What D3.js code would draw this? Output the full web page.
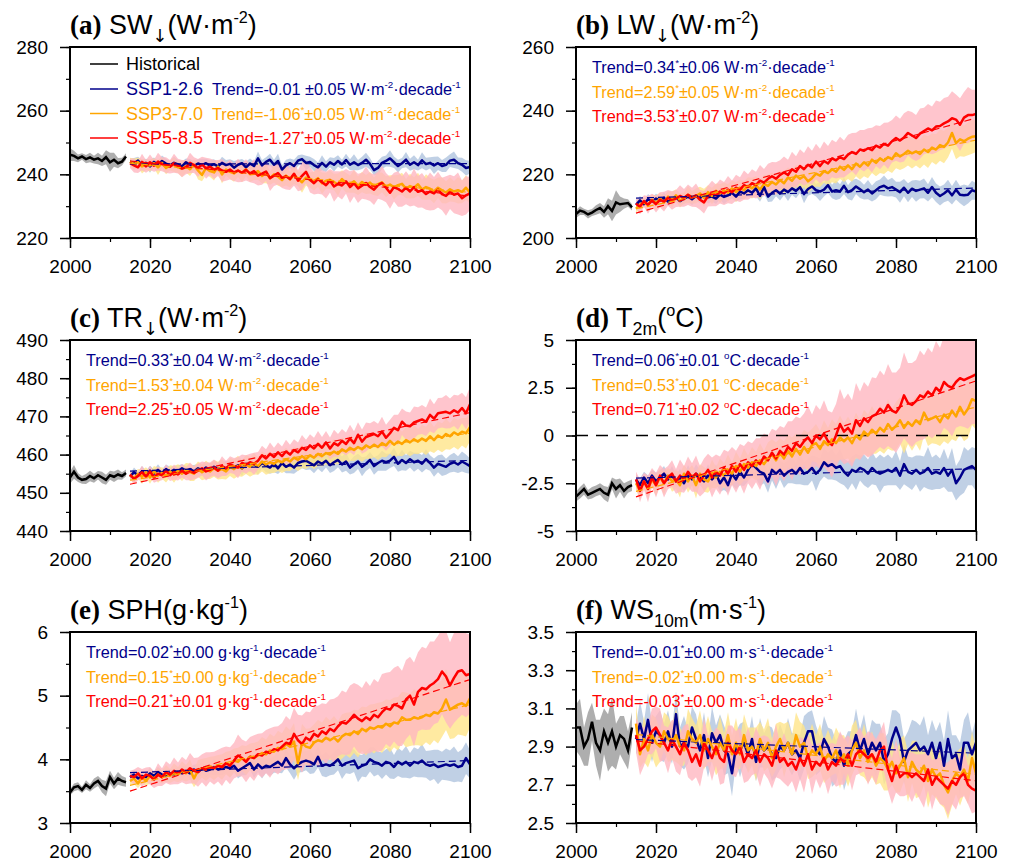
<!DOCTYPE html>
<html>
<head>
<meta charset="utf-8">
<script src="https://d3js.org/d3.v7.min.js"></script>
<style>
body { margin: 0; background: #fff; }
text { font-family: "Liberation Sans", Arial, Helvetica, sans-serif; }
</style>
</head>
<body>
<div id="chart"></div>
<script>

// years
var yearsHist = d3.range(2000, 2015);
var yearsSsp = d3.range(2015, 2101);
var yearTicks = [2000, 2020, 2040, 2060, 2080, 2100];

// ---- (a) SW down ----
var swTicks = [220, 240, 260, 280];
var swHist = [246.2,245.8,245.0,245.6,244.8,245.3,244.6,245.0,244.2,245.4,243.8,244.6,243.5,244.0,245.6];
var swHistSd = [2.0,1.6,1.2,1.0,1.3,1.5,1.2,1.8,1.6,2.2,3.0,2.2,1.6,1.2,1.0];
var swSsp126 = [244.0,243.5,244.3,242.8,243.6,242.5,243.9,243.0,244.2,243.4,
  242.8,243.6,243.1,242.5,243.8,243.0,242.6,243.4,242.9,243.5,
  242.7,243.2,242.5,243.6,242.9,243.3,242.1,243.0,243.5,242.2,
  243.4,242.6,245.0,242.8,243.9,244.6,243.0,244.2,241.5,242.8,
  243.5,242.6,244.3,244.8,243.6,243.9,242.9,242.2,243.6,242.4,
  243.8,243.0,244.2,243.1,244.5,243.0,243.8,242.9,243.6,244.6,
  243.3,241.3,242.0,243.6,244.2,245.0,243.8,242.6,243.5,244.6,
  243.0,243.8,242.9,244.4,243.2,243.6,242.8,243.5,242.6,243.0,
  244.3,244.6,243.5,243.0,242.0,242.3];
var swSsp126Sd = [1.0,1.6,1.2,1.8,1.3,2.0,1.4,1.2,1.7,1.5,
  1.3,1.9,1.4,1.6,1.2,1.8,1.5,1.3,2.0,1.4,
  1.7,1.5,1.2,1.9,1.6,1.4,2.1,1.5,1.3,1.8,
  1.6,1.4,2.2,1.7,1.5,1.9,1.6,2.3,1.4,1.8,
  1.5,2.0,1.7,1.4,2.2,1.6,1.9,1.5,2.4,1.7,
  1.6,2.1,1.8,1.5,2.0,1.7,2.5,1.6,1.9,2.2,
  1.8,1.6,2.3,1.9,1.7,2.6,1.8,2.0,1.6,2.4,
  1.9,2.2,1.7,2.5,2.0,1.8,2.7,2.1,1.9,2.3,
  2.0,2.6,1.8,2.2,2.4,2.0];
var swSsp370 = [244.0,243.2,243.8,242.5,243.0,242.8,243.5,242.2,243.6,242.0,
  242.8,243.0,242.2,241.8,242.5,241.6,243.0,241.2,239.8,242.0,
  241.0,240.6,242.4,240.0,241.5,240.8,240.3,241.2,240.5,241.6,
  240.0,240.2,241.0,239.5,240.4,238.8,240.0,239.3,238.2,239.6,
  238.4,239.8,238.6,237.5,239.0,238.2,237.9,238.8,237.2,238.0,
  238.3,237.6,236.8,238.5,237.4,236.9,237.8,236.4,237.6,236.8,
  237.4,236.2,236.9,237.5,236.1,236.8,235.9,236.6,237.0,235.5,
  236.3,235.8,236.9,235.2,236.0,235.5,234.6,235.8,235.0,234.3,
  235.3,234.6,235.0,234.5,235.8,234.2];
var swSsp370Sd = [1.2,1.8,1.4,2.2,1.6,1.9,1.5,2.4,1.7,2.0,
  1.6,2.3,1.8,2.6,1.9,2.1,1.7,2.8,2.0,2.2,
  1.8,2.5,2.1,2.9,1.9,2.3,2.6,2.0,3.0,2.2,
  2.4,2.0,2.8,2.3,3.2,2.1,2.6,2.9,2.2,3.1,
  2.5,2.8,2.3,3.3,2.6,2.4,3.0,2.7,3.4,2.5,
  2.9,2.6,3.5,2.8,3.1,2.7,3.6,2.9,3.2,3.0,
  3.4,2.8,3.7,3.1,3.3,2.9,3.8,3.2,3.5,3.0,
  3.9,3.3,3.6,3.1,4.0,3.4,3.7,3.2,4.1,3.5,
  3.8,3.3,4.2,3.6,3.9,3.4];
var swSsp585 = [243.5,242.8,242.2,243.9,242.5,243.8,242.7,244.0,243.2,242.9,
  242.4,243.5,242.6,241.8,242.2,243.6,242.9,242.0,243.1,241.9,
  242.4,241.5,242.0,241.2,240.8,241.5,240.6,241.2,240.5,241.4,
  240.3,241.0,239.6,240.2,240.9,238.8,239.6,240.4,238.9,239.4,
  238.5,240.2,238.0,239.5,240.8,238.3,237.2,238.5,237.5,236.6,
  238.0,236.2,237.0,236.5,237.8,236.0,237.2,235.6,236.4,237.3,
  236.0,235.2,236.6,237.3,235.8,234.2,236.0,235.4,234.6,235.8,
  234.6,236.0,234.5,235.0,233.8,234.6,234.0,235.2,233.8,233.2,
  234.5,233.6,234.0,232.5,233.4,234.0];
var swSsp585Sd = [1.5,2.2,1.8,2.6,2.0,2.4,1.9,2.8,2.2,2.5,
  2.1,3.0,2.3,2.7,2.2,3.2,2.5,2.8,2.4,3.3,
  2.6,3.0,2.5,3.5,2.8,3.1,2.7,3.7,2.9,3.3,
  2.8,3.8,3.1,3.5,3.0,4.0,3.3,3.6,3.2,4.2,
  3.4,3.8,3.3,4.4,3.6,4.0,3.5,4.6,3.8,4.2,
  3.7,4.8,4.0,4.4,3.9,5.0,4.2,4.6,4.1,5.2,
  4.4,4.8,4.3,5.4,4.6,5.0,4.5,5.6,4.8,5.2,
  4.7,5.8,5.0,5.4,4.9,6.0,5.2,5.6,5.1,6.2,
  5.4,5.8,6.6,5.6,6.0,5.2];
var swTrendVal = ["-0.01", "-1.06", "-1.27"];
var swTrendSig = [false, true, true];
var swTrendErr = ["0.05", "0.05", "0.05"];

// ---- (b) LW down ----
var lwTicks = [200, 220, 240, 260];
var lwHist = [207.5,208.6,208.2,207.4,208.0,208.8,209.4,208.2,210.0,208.5,211.2,210.6,210.8,211.0,209.6];
var lwHistSd = [1.2,1.4,1.0,1.3,1.1,1.5,1.6,1.8,2.5,3.2,3.8,2.4,1.6,1.2,1.0];
var lwSsp126 = [210.4,211.8,210.6,212.2,211.5,212.4,211.8,212.6,211.4,212.0,
  212.8,211.6,212.4,213.0,212.2,213.2,212.6,213.4,212.8,213.0,
  212.4,213.6,212.9,213.4,214.2,213.0,214.6,214.0,215.0,214.2,
  215.6,213.2,216.0,213.0,214.2,215.0,214.0,215.2,214.4,215.6,
  214.8,216.0,213.8,215.4,216.2,215.0,214.6,215.2,216.6,214.6,
  215.0,214.6,216.4,214.4,215.0,216.2,215.3,214.4,215.2,214.0,
  215.0,216.0,216.4,215.6,216.0,215.2,214.4,215.8,214.2,215.5,
  214.8,215.2,215.6,214.2,216.0,214.2,213.2,214.0,215.0,213.4,
  215.2,213.6,213.4,213.6,215.0,214.6];
var lwSsp126Sd = [1.0,1.4,1.1,1.6,1.2,1.5,1.3,1.8,1.2,1.6,
  1.4,1.2,1.7,1.3,1.9,1.4,1.6,1.2,2.0,1.5,
  1.7,1.4,2.2,1.6,1.8,1.5,2.4,1.7,2.0,1.6,
  2.5,1.8,2.1,1.7,2.7,1.9,2.2,1.8,2.8,2.0,
  2.3,1.9,2.9,2.1,2.4,2.0,3.0,2.2,2.5,2.1,
  3.1,2.3,2.6,2.2,3.2,2.4,2.7,2.3,3.0,2.5,
  2.8,2.4,3.2,2.6,2.9,2.5,3.3,2.7,3.0,2.6,
  3.4,2.8,3.1,2.7,3.2,2.9,3.0,2.8,3.3,2.9,
  3.1,2.7,3.4,2.8,3.0,2.6];
var lwSsp370 = [209.2,210.6,211.2,210.4,212.0,211.0,212.4,211.2,213.0,212.0,
  213.4,211.8,212.6,213.6,212.8,213.2,214.0,212.6,214.4,213.2,
  214.8,214.0,215.0,214.2,215.6,214.4,215.8,215.0,216.4,215.6,
  216.6,215.2,217.0,216.4,217.6,216.8,218.2,217.2,219.0,218.0,
  219.6,218.6,219.4,217.8,218.8,220.2,219.6,221.0,220.4,221.6,
  220.8,222.4,221.4,222.8,221.6,223.4,222.4,223.8,222.8,224.6,
  223.6,225.0,224.2,225.4,224.8,226.6,225.6,226.4,227.4,226.6,
  227.2,226.4,227.8,227.0,228.4,227.8,229.2,228.6,230.0,233.0,
  229.8,231.0,230.4,231.2,231.8,232.0];
var lwSsp370Sd = [1.2,1.7,1.4,2.0,1.6,2.3,1.8,2.1,1.7,2.5,
  1.9,2.2,1.8,2.7,2.0,2.4,2.1,2.9,2.2,2.6,
  2.3,3.0,2.4,2.8,2.5,3.2,2.6,2.9,2.7,3.3,
  2.8,3.1,2.9,3.5,3.0,3.2,3.1,3.7,3.2,3.4,
  3.3,3.8,3.4,3.6,3.5,4.0,3.6,3.7,3.8,4.1,
  3.7,3.9,3.8,4.3,3.9,4.0,4.1,4.4,4.0,4.2,
  4.2,4.6,4.1,4.3,4.4,4.7,4.2,4.5,4.6,4.8,
  4.4,4.6,4.7,5.0,4.5,4.8,4.9,5.1,4.7,5.0,
  5.1,5.3,4.9,5.2,5.3,5.0];
var lwSsp585 = [210.8,209.8,211.6,210.4,211.8,210.6,212.0,211.4,212.6,211.8,
  212.4,213.2,212.6,213.6,212.8,213.4,212.0,211.2,213.2,214.0,
  213.4,214.6,214.0,215.2,214.4,215.8,215.2,216.6,216.0,217.2,
  216.6,218.0,217.4,218.6,219.4,218.6,219.8,220.6,219.8,221.6,
  220.8,222.6,221.6,223.0,222.2,224.0,222.6,224.2,223.4,225.0,
  224.4,225.4,224.8,226.2,227.0,226.4,227.8,227.4,228.2,227.6,
  229.0,228.4,229.6,229.0,230.4,231.4,230.6,231.6,233.0,232.2,
  231.4,232.8,233.6,234.4,233.8,235.0,235.2,236.0,236.6,237.6,
  237.2,235.6,237.8,238.6,238.6,239.0];
var lwSsp585Sd = [1.5,2.3,1.8,2.8,2.1,2.6,2.4,3.1,2.5,2.9,
  2.7,3.4,2.8,3.2,3.0,3.7,3.1,3.5,3.3,4.0,
  3.4,3.8,3.6,4.3,3.7,4.1,3.9,4.6,4.0,4.4,
  4.2,4.9,4.3,4.7,4.5,5.2,4.6,5.0,4.8,5.5,
  4.9,5.3,5.1,5.8,5.2,5.6,5.4,6.1,5.5,5.9,
  5.7,6.4,5.8,6.2,6.0,6.7,6.1,6.5,6.3,7.0,
  6.4,6.8,6.6,7.3,6.7,7.1,6.9,7.6,7.0,7.4,
  7.2,7.9,7.3,7.7,7.5,8.2,7.6,8.0,7.8,8.5,
  7.9,8.3,8.1,8.8,8.0,7.6];
var lwTrendVal = ["0.34", "2.59", "3.53"];
var lwTrendSig = [true, true, true];
var lwTrendErr = ["0.06", "0.05", "0.07"];

// ---- (c) TR down ----
var trTicks = [440, 450, 460, 470, 480, 490];
var trHist = [454.0,455.5,454.0,453.4,453.6,454.4,453.8,454.6,454.0,453.4,454.6,454.2,454.8,454.4,455.2];
var trHistSd = [1.6,1.8,1.2,1.0,1.3,1.4,1.2,1.1,1.5,1.3,1.2,1.4,1.3,1.0,0.9];
var trSsp126 = [454.2,455.4,454.6,455.6,454.8,455.8,455.0,456.0,455.2,456.2,
  455.4,456.0,455.6,456.4,455.8,456.2,455.6,456.4,455.8,456.6,
  456.0,456.8,456.2,456.6,456.4,457.0,456.6,457.2,456.4,457.6,
  457.0,457.4,456.8,457.8,457.2,456.6,457.6,456.4,457.8,456.8,
  457.4,456.6,457.8,458.2,458.4,457.8,457.2,458.2,457.6,458.4,
  457.2,458.0,458.6,457.4,458.2,456.6,457.4,458.2,456.8,457.6,
  458.6,457.0,457.8,458.4,458.0,458.4,459.4,457.6,458.6,457.8,
  458.8,458.0,458.4,457.6,458.8,457.8,456.6,457.6,457.2,456.8,
  457.6,458.0,457.4,458.2,457.6,457.0];
var trSsp126Sd = [0.8,1.2,0.9,1.4,1.0,1.3,1.1,1.5,0.9,1.2,
  1.4,1.0,1.6,1.1,1.3,1.0,1.7,1.2,1.4,1.1,
  1.8,1.2,1.5,1.3,1.9,1.2,1.6,1.4,2.0,1.3,
  1.7,1.5,2.1,1.4,1.8,1.6,2.2,1.5,1.9,1.7,
  2.3,1.6,2.0,1.8,2.4,1.7,2.1,1.9,2.2,1.8,
  2.0,2.3,1.9,2.1,2.4,1.8,2.2,2.0,2.5,1.9,
  2.1,2.3,2.0,2.6,2.2,1.9,2.4,2.1,2.7,2.0,
  2.2,2.5,2.1,2.3,2.6,2.0,2.4,2.2,2.8,2.1,
  2.3,2.5,2.2,2.6,2.4,2.0];
var trSsp370 = [454.6,453.8,455.0,454.2,455.4,454.0,455.6,454.6,455.2,454.4,
  455.6,454.8,455.8,455.0,456.0,455.4,455.0,456.2,455.4,456.0,
  455.6,456.4,455.8,456.2,455.6,456.8,456.2,457.0,456.4,457.4,
  456.8,457.6,457.0,458.2,457.4,458.0,457.6,458.4,458.0,458.8,
  458.2,459.2,458.6,459.6,458.8,459.8,459.2,460.2,459.6,460.4,
  460.0,460.8,460.2,461.4,460.8,461.8,461.2,462.0,461.4,462.4,
  461.8,462.6,462.0,463.0,462.4,463.6,462.6,463.4,462.8,463.8,
  463.2,464.0,463.4,464.2,463.6,464.8,463.8,465.0,464.4,465.4,
  464.8,465.8,465.2,466.0,465.6,467.2];
var trSsp370Sd = [1.0,1.5,1.2,1.8,1.3,1.6,1.4,2.0,1.5,1.7,
  1.6,2.2,1.7,1.9,1.8,2.3,1.9,2.0,2.1,2.4,
  2.0,2.2,2.3,2.6,2.1,2.4,2.5,2.7,2.2,2.5,
  2.6,2.8,2.3,2.6,2.7,2.9,2.4,2.7,2.8,3.0,
  2.5,2.8,2.9,3.1,2.6,2.9,3.0,3.2,2.7,3.0,
  3.1,3.3,2.8,3.1,3.2,3.4,2.9,3.2,3.3,3.5,
  3.0,3.3,3.4,3.6,3.1,3.4,3.5,3.7,3.2,3.5,
  3.6,3.8,3.3,3.6,3.7,3.9,3.4,3.7,3.8,4.0,
  3.5,3.8,3.9,3.6,4.0,3.7];
var trSsp585 = [454.8,453.6,454.4,455.4,454.2,455.6,454.0,455.0,454.6,455.8,
  454.6,455.4,454.8,455.8,455.0,455.6,455.2,455.8,456.4,455.6,
  456.0,456.6,455.8,457.0,456.4,457.4,457.0,456.6,457.8,457.4,
  458.0,457.6,458.4,459.8,459.0,460.2,459.4,460.6,459.6,460.8,
  460.0,461.2,460.6,461.8,461.2,462.4,461.6,462.8,461.8,463.2,
  461.6,463.0,462.4,463.6,462.8,464.2,463.0,465.2,463.4,464.6,
  465.0,465.4,464.8,466.0,464.4,465.6,467.0,466.4,468.6,467.6,
  467.4,468.4,468.8,469.2,468.6,470.4,469.4,470.8,471.0,471.2,
  470.8,471.6,471.0,472.2,470.8,473.2];
var trSsp585Sd = [1.0,1.4,1.1,1.7,1.2,1.5,1.4,1.9,1.3,1.6,
  1.5,2.0,1.6,1.8,1.7,2.3,1.7,1.9,1.8,2.4,
  1.9,2.1,2.0,2.6,2.0,2.2,2.1,2.8,2.2,2.4,
  2.2,2.9,2.3,2.5,2.4,3.0,2.4,2.6,2.5,3.1,
  2.6,2.8,2.6,3.3,2.7,2.9,2.8,3.4,2.8,3.0,
  2.9,3.5,3.0,3.1,3.0,3.6,3.1,3.3,3.2,3.8,
  3.2,3.4,3.3,3.9,3.4,3.5,3.4,4.0,3.5,3.7,
  3.6,4.2,3.6,3.8,3.7,4.3,3.8,4.0,3.9,4.4,
  3.9,4.1,4.5,4.0,4.2,4.6];
var trTrendVal = ["0.33", "1.53", "2.25"];
var trTrendSig = [true, true, true];
var trTrendErr = ["0.04", "0.04", "0.05"];

// ---- (d) T2m ----
var t2mTicks = [-5, -2.5, 0, 2.5, 5];
var t2mHist = [-3.2,-3.0,-2.8,-3.1,-3.0,-2.9,-2.8,-3.0,-3.1,-2.5,-2.8,-2.6,-2.9,-2.7,-2.6];
var t2mHistSd = [0.25,0.3,0.3,0.25,0.3,0.28,0.3,0.35,0.4,0.3,0.5,0.35,0.4,0.3,0.3];
var t2mSsp126 = [-2.3,-2.6,-2.2,-2.5,-2.1,-2.4,-2.2,-2.0,-2.3,-2.1,
  -2.4,-2.2,-2.5,-2.1,-2.3,-2.0,-2.2,-2.4,-2.1,-2.3,
  -2.0,-2.5,-2.2,-2.6,-2.0,-2.3,-1.9,-2.2,-1.8,-1.5,
  -1.7,-1.9,-2.0,-2.4,-1.8,-2.0,-1.8,-2.1,-1.9,-1.8,
  -2.0,-1.7,-2.0,-1.9,-1.7,-2.0,-1.8,-1.4,-1.6,-1.5,
  -1.7,-1.6,-1.9,-2.1,-1.8,-1.9,-1.7,-1.8,-2.0,-1.7,
  -1.9,-2.0,-1.9,-1.8,-1.9,-1.7,-2.1,-1.5,-1.9,-2.0,
  -1.8,-2.0,-1.9,-1.7,-2.0,-1.9,-2.0,-1.7,-2.1,-1.8,
  -2.5,-2.2,-1.8,-1.7,-1.6,-1.8];
var t2mSsp126Sd = [0.25,0.35,0.3,0.4,0.3,0.45,0.35,0.4,0.3,0.5,
  0.35,0.45,0.4,0.55,0.35,0.5,0.4,0.45,0.6,0.4,
  0.5,0.45,0.65,0.4,0.55,0.5,0.7,0.45,0.6,0.5,
  0.55,0.75,0.5,0.6,0.55,0.8,0.5,0.65,0.6,0.7,
  0.55,0.85,0.6,0.7,0.65,0.9,0.6,0.75,0.7,0.8,
  0.65,0.9,0.7,0.75,0.7,0.95,0.65,0.8,0.75,0.85,
  0.7,1.0,0.75,0.8,0.7,0.9,0.75,1.05,0.8,0.85,
  0.75,0.95,0.8,1.1,0.85,0.9,0.8,1.0,0.85,1.15,
  0.9,0.95,1.2,0.9,1.0,1.1];
var t2mSsp370 = [-2.5,-2.9,-2.4,-2.8,-2.3,-2.6,-2.2,-2.5,-2.1,-2.4,
  -2.3,-2.6,-2.0,-2.4,-2.1,-2.6,-2.0,-2.3,-2.4,-2.0,
  -2.2,-1.9,-2.1,-1.8,-2.0,-1.6,-1.9,-1.5,-1.7,-1.4,
  -1.6,-1.3,-1.5,-1.2,-1.0,-1.3,-0.9,-1.2,-0.8,-1.1,
  -0.7,-1.0,-0.6,-0.9,-0.5,-0.4,-0.7,-0.3,-0.5,-0.2,
  -0.4,-0.1,-0.3,-0.1,-0.4,0.0,-0.2,0.2,0.0,0.3,
  0.1,0.4,0.2,0.6,0.3,0.5,0.8,0.4,0.7,0.5,
  0.8,0.6,1.2,0.8,0.9,1.0,0.7,1.1,0.9,1.3,
  1.0,1.5,1.1,1.4,1.9,1.8];
var t2mSsp370Sd = [0.3,0.45,0.35,0.5,0.4,0.55,0.45,0.6,0.4,0.55,
  0.5,0.65,0.45,0.6,0.55,0.7,0.5,0.65,0.6,0.75,
  0.55,0.7,0.65,0.8,0.6,0.75,0.7,0.85,0.65,0.8,
  0.75,0.9,0.7,0.85,0.8,0.95,0.75,0.9,0.85,1.0,
  0.8,0.95,0.9,1.05,0.85,1.0,0.95,1.1,0.9,1.05,
  1.0,1.15,0.95,1.1,1.05,1.2,1.0,1.15,1.1,1.25,
  1.05,1.2,1.15,1.3,1.1,1.25,1.2,1.35,1.15,1.3,
  1.25,1.4,1.2,1.35,1.3,1.45,1.25,1.4,1.35,1.5,
  1.3,1.45,1.4,1.55,1.35,1.5];
var t2mSsp585 = [-2.3,-2.9,-2.4,-2.8,-2.2,-2.6,-2.1,-2.5,-2.2,-2.0,
  -2.4,-2.1,-2.3,-1.9,-2.2,-2.0,-2.4,-2.1,-1.8,-2.2,
  -1.9,-2.1,-1.7,-2.0,-1.6,-1.9,-1.5,-1.8,-1.4,-1.6,
  -1.3,-1.5,-1.1,-1.3,-0.9,-1.2,-0.8,-1.0,-0.6,-0.8,
  -0.4,-0.6,-0.3,-0.1,-0.4,0.0,-0.2,0.1,-0.3,-0.5,
  0.0,0.6,0.2,0.4,0.1,0.8,0.5,0.9,0.7,1.0,
  1.1,1.4,1.2,1.6,1.3,1.2,1.5,2.1,1.7,1.6,
  1.8,2.1,2.0,2.3,2.1,2.5,2.3,2.8,2.6,2.5,
  2.8,3.0,2.9,3.0,3.1,3.2];
var t2mSsp585Sd = [0.4,0.6,0.45,0.7,0.5,0.65,0.55,0.75,0.6,0.7,
  0.65,0.85,0.7,0.8,0.75,0.95,0.8,0.9,0.85,1.05,
  0.9,1.0,0.95,1.15,1.0,1.1,1.05,1.25,1.1,1.2,
  1.15,1.35,1.2,1.3,1.25,1.45,1.3,1.4,1.35,1.55,
  1.4,1.5,1.45,1.65,1.5,1.6,1.55,1.75,1.6,1.7,
  1.65,1.85,1.7,1.8,1.75,1.95,1.8,1.9,1.85,2.05,
  1.9,2.0,1.95,2.15,2.0,2.1,2.05,2.25,2.1,2.2,
  2.15,2.35,2.2,2.3,2.25,2.45,2.3,2.4,2.35,2.55,
  2.4,2.5,2.45,2.65,2.5,2.6];
var t2mTrendVal = ["0.06", "0.53", "0.71"];
var t2mTrendSig = [true, true, true];
var t2mTrendErr = ["0.01", "0.01", "0.02"];

// ---- (e) SPH ----
var sphTicks = [3, 4, 5, 6];
var sphHist = [3.48,3.56,3.58,3.52,3.60,3.55,3.62,3.66,3.58,3.54,3.72,3.62,3.70,3.66,3.64];
var sphHistSd = [0.05,0.06,0.06,0.05,0.07,0.06,0.08,0.08,0.1,0.12,0.1,0.09,0.1,0.08,0.07];
var sphSsp126 = [3.72,3.76,3.70,3.74,3.72,3.78,3.74,3.80,3.76,3.74,
  3.78,3.76,3.80,3.78,3.82,3.78,3.84,3.80,3.86,3.82,
  3.84,3.88,3.84,3.86,3.88,3.86,3.90,3.82,3.86,3.90,
  3.94,3.84,3.92,3.86,3.90,3.88,3.92,3.96,3.90,4.02,
  3.92,3.86,3.92,3.96,3.98,3.96,3.92,4.04,3.90,3.92,
  3.90,3.94,4.00,3.90,3.94,3.96,3.98,3.86,3.90,3.92,
  4.00,3.96,3.94,3.90,3.96,3.94,3.88,3.96,3.92,3.96,
  3.90,3.96,3.94,3.98,3.92,3.90,3.92,3.88,3.90,3.92,
  3.90,3.92,3.88,3.90,4.02,3.92];
var sphSsp126Sd = [0.05,0.07,0.06,0.08,0.06,0.09,0.07,0.08,0.06,0.1,
  0.07,0.09,0.08,0.11,0.07,0.1,0.08,0.12,0.09,0.1,
  0.08,0.13,0.09,0.11,0.1,0.14,0.09,0.12,0.11,0.15,
  0.1,0.13,0.12,0.16,0.11,0.14,0.13,0.17,0.12,0.15,
  0.14,0.18,0.13,0.16,0.15,0.19,0.14,0.17,0.16,0.2,
  0.15,0.18,0.17,0.21,0.16,0.19,0.18,0.22,0.17,0.2,
  0.19,0.23,0.18,0.21,0.2,0.24,0.19,0.22,0.21,0.25,
  0.2,0.23,0.22,0.26,0.21,0.24,0.23,0.27,0.22,0.25,
  0.24,0.28,0.23,0.26,0.25,0.22];
var sphSsp370 = [3.66,3.70,3.62,3.72,3.66,3.74,3.70,3.76,3.72,3.78,
  3.74,3.80,3.76,3.82,3.78,3.84,3.70,3.82,3.86,3.84,
  3.88,3.86,3.90,3.88,3.94,3.92,3.98,3.96,4.02,3.98,
  4.04,4.02,4.06,4.10,4.08,4.14,4.12,4.18,4.16,4.24,
  4.20,4.28,3.94,4.26,4.20,4.18,4.26,4.30,4.28,4.34,
  4.30,4.34,4.28,4.36,4.40,4.38,4.44,4.40,4.48,4.44,
  4.50,4.48,4.52,4.50,4.56,4.52,4.58,4.56,4.66,4.62,
  4.62,4.66,4.64,4.66,4.70,4.68,4.74,4.72,4.80,4.94,
  4.78,4.82,4.86,4.88,4.84,4.96];
var sphSsp370Sd = [0.06,0.09,0.07,0.1,0.08,0.12,0.09,0.11,0.1,0.13,
  0.11,0.14,0.12,0.15,0.13,0.16,0.14,0.17,0.15,0.18,
  0.16,0.19,0.17,0.2,0.18,0.21,0.19,0.22,0.2,0.23,
  0.21,0.24,0.22,0.25,0.23,0.26,0.24,0.27,0.25,0.28,
  0.26,0.29,0.27,0.3,0.28,0.31,0.29,0.32,0.3,0.33,
  0.31,0.34,0.32,0.35,0.33,0.36,0.34,0.37,0.35,0.38,
  0.36,0.39,0.37,0.4,0.38,0.41,0.39,0.42,0.4,0.43,
  0.41,0.44,0.42,0.45,0.43,0.46,0.44,0.47,0.45,0.48,
  0.46,0.49,0.47,0.5,0.48,0.46];
var sphSsp585 = [3.74,3.72,3.78,3.70,3.76,3.74,3.68,3.76,3.72,3.80,
  3.76,3.82,3.78,3.84,3.80,3.86,3.82,3.80,3.86,3.84,
  3.88,3.86,3.90,3.88,3.94,3.90,3.98,4.06,4.02,3.96,
  4.04,4.02,4.08,4.06,4.12,4.10,4.16,4.14,4.20,4.26,
  4.24,4.40,4.30,4.24,4.34,4.30,4.40,4.36,4.44,4.40,
  4.48,4.44,4.52,4.58,4.56,4.62,4.70,4.64,4.60,4.66,
  4.62,4.70,4.66,4.74,4.80,4.78,4.86,4.84,4.80,4.94,
  5.00,4.86,5.06,5.12,5.10,5.16,5.20,5.26,5.38,5.30,
  5.16,5.28,5.38,5.40,5.32,5.34];
var sphSsp585Sd = [0.08,0.12,0.1,0.15,0.11,0.14,0.13,0.18,0.14,0.17,
  0.16,0.21,0.17,0.2,0.19,0.24,0.2,0.23,0.22,0.27,
  0.23,0.26,0.25,0.3,0.26,0.29,0.28,0.33,0.29,0.32,
  0.31,0.36,0.32,0.35,0.34,0.39,0.35,0.38,0.37,0.42,
  0.38,0.41,0.4,0.45,0.41,0.44,0.43,0.48,0.44,0.47,
  0.46,0.51,0.47,0.5,0.49,0.54,0.5,0.53,0.52,0.57,
  0.53,0.56,0.55,0.6,0.56,0.59,0.58,0.63,0.59,0.62,
  0.61,0.66,0.62,0.65,0.64,0.69,0.65,0.68,0.67,0.72,
  0.68,0.71,0.74,0.7,0.66,0.62];
var sphTrendVal = ["0.02", "0.15", "0.21"];
var sphTrendSig = [true, true, true];
var sphTrendErr = ["0.00", "0.00", "0.01"];

// ---- (f) WS10m ----
var wsTicks = [2.5, 2.7, 2.9, 3.1, 3.3, 3.5];
var wsHist = [3.00,3.00,2.90,2.94,3.03,2.92,2.88,2.98,2.92,2.98,2.90,2.96,2.94,2.88,3.00];
var wsHistSd = [0.12,0.15,0.1,0.14,0.1,0.12,0.16,0.12,0.15,0.18,0.12,0.1,0.12,0.1,0.08];
var wsSsp126 = [2.94,3.02,2.94,3.04,2.92,2.98,2.96,2.92,2.98,2.90,
  3.07,2.90,2.92,2.90,3.00,2.94,2.88,2.96,2.84,2.97,
  2.92,2.96,2.88,2.86,2.76,2.90,2.88,2.92,2.86,2.94,
  2.82,2.92,2.88,2.90,2.86,2.84,2.90,2.88,2.92,2.86,
  2.88,2.84,2.92,2.98,2.98,2.88,2.86,2.94,2.90,2.84,
  2.82,2.88,2.80,2.86,2.88,2.96,2.88,2.94,2.86,2.92,
  2.88,2.92,2.82,2.86,2.94,3.00,2.94,2.82,2.88,2.90,
  2.92,2.88,2.90,2.86,2.92,2.84,2.92,2.80,2.94,2.84,
  2.86,2.78,2.92,2.92,2.86,2.92];
var wsSsp126Sd = [0.08,0.12,0.09,0.14,0.1,0.08,0.13,0.1,0.11,0.09,
  0.12,0.1,0.14,0.09,0.11,0.13,0.08,0.12,0.1,0.14,
  0.09,0.11,0.13,0.1,0.12,0.08,0.14,0.11,0.09,0.12,
  0.1,0.13,0.09,0.11,0.14,0.1,0.12,0.08,0.13,0.11,
  0.09,0.12,0.14,0.1,0.11,0.13,0.09,0.12,0.1,0.15,
  0.11,0.09,0.13,0.12,0.1,0.14,0.11,0.13,0.09,0.12,
  0.14,0.1,0.12,0.11,0.15,0.09,0.13,0.12,0.1,0.14,
  0.11,0.13,0.16,0.1,0.12,0.14,0.11,0.13,0.15,0.12,
  0.1,0.14,0.12,0.16,0.11,0.13];
var wsSsp370 = [3.02,2.86,2.94,2.88,2.96,2.92,2.90,2.98,2.94,2.92,
  2.96,2.90,2.88,2.98,2.94,2.92,2.96,2.88,2.94,2.90,
  2.86,2.92,2.88,2.96,2.86,2.92,2.86,2.96,2.88,2.90,
  2.86,2.94,2.88,2.92,2.84,2.90,2.94,2.88,2.92,2.86,
  2.96,2.90,2.92,2.84,2.88,2.86,2.90,2.82,2.86,2.84,
  2.88,2.82,2.86,2.80,2.88,2.92,2.84,2.88,2.82,2.86,
  2.80,2.84,2.82,2.78,2.82,2.76,2.80,2.84,2.74,2.82,
  2.78,2.76,2.80,2.72,2.78,2.74,2.76,2.70,2.66,2.72,
  2.76,2.74,2.78,2.72,2.84,2.76];
var wsSsp370Sd = [0.1,0.07,0.12,0.09,0.11,0.13,0.08,0.1,0.12,0.09,
  0.14,0.1,0.08,0.12,0.11,0.09,0.13,0.1,0.12,0.08,
  0.11,0.14,0.09,0.12,0.1,0.13,0.08,0.11,0.12,0.1,
  0.14,0.09,0.11,0.13,0.1,0.12,0.09,0.14,0.11,0.1,
  0.12,0.13,0.09,0.11,0.14,0.1,0.12,0.11,0.13,0.09,
  0.12,0.14,0.1,0.11,0.13,0.12,0.09,0.14,0.11,0.12,
  0.1,0.13,0.15,0.11,0.12,0.1,0.14,0.12,0.13,0.11,
  0.15,0.12,0.1,0.14,0.13,0.11,0.16,0.12,0.14,0.13,
  0.11,0.15,0.13,0.12,0.14,0.12];
var wsSsp585 = [2.96,2.88,2.90,2.94,2.98,3.00,2.96,2.92,2.88,2.94,
  2.90,2.86,2.92,2.88,2.82,2.86,2.80,2.92,2.88,2.84,
  2.90,2.84,2.82,2.92,2.88,2.86,2.90,2.82,2.86,2.84,
  2.88,2.82,2.86,2.84,2.80,2.88,2.82,2.84,2.80,2.82,
  2.78,2.84,2.80,2.86,2.78,2.82,2.80,2.84,2.78,2.82,
  2.80,2.84,2.82,2.86,2.80,2.86,2.88,2.86,2.84,2.86,
  2.82,2.88,2.90,2.78,2.72,2.80,2.74,2.76,2.76,2.74,
  2.76,2.74,2.72,2.78,2.70,2.74,2.72,2.70,2.68,2.72,
  2.70,2.74,2.76,2.70,2.68,2.67];
var wsSsp585Sd = [0.09,0.13,0.1,0.08,0.12,0.11,0.14,0.09,0.12,0.1,
  0.13,0.11,0.09,0.14,0.1,0.12,0.11,0.13,0.08,0.12,
  0.1,0.14,0.11,0.09,0.13,0.12,0.1,0.11,0.14,0.09,
  0.12,0.13,0.1,0.11,0.12,0.14,0.09,0.13,0.11,0.1,
  0.12,0.11,0.14,0.1,0.13,0.09,0.12,0.11,0.13,0.1,
  0.11,0.14,0.12,0.1,0.13,0.11,0.12,0.09,0.14,0.11,
  0.12,0.1,0.13,0.11,0.12,0.14,0.1,0.12,0.11,0.13,
  0.1,0.12,0.14,0.11,0.13,0.1,0.12,0.11,0.14,0.12,
  0.13,0.11,0.12,0.1,0.13,0.11];
var wsTrendVal = ["-0.01", "-0.02", "-0.03"];
var wsTrendSig = [true, true, true];
var wsTrendErr = ["0.00", "0.00", "0.00"];

var scenarioNames = ["SSP1-2.6", "SSP3-7.0", "SSP5-8.5"];
var lineColors = ["#00008b", "#ffa500", "#ff0000"];
var bandColors = ["#b0c4de", "#ffe58a", "#ffb6c1"];

var wm2Unit = [{t: " W·m"}, {t: "-2", k: "sup"}, {t: "·decade"}, {t: "-1", k: "sup"}];

var panels = [
  {left: 70, top: 47, domain: [220, 280], ticks: swTicks, minor: 10, fmt: d3.format("d"),
   title: [{t: "(a)", k: "b"}, {t: " SW"}, {t: "↓", k: "sub"}, {t: "(W·m"}, {t: "-2", k: "sup"}, {t: ")"}],
   hist: swHist, histSd: swHistSd, ssp: [swSsp126, swSsp370, swSsp585], sd: [swSsp126Sd, swSsp370Sd, swSsp585Sd],
   tv: swTrendVal, ts: swTrendSig, te: swTrendErr, unit: wm2Unit, legend: true},
  {left: 576, top: 47, domain: [200, 260], ticks: lwTicks, minor: 10, fmt: d3.format("d"),
   title: [{t: "(b)", k: "b"}, {t: " LW"}, {t: "↓", k: "sub"}, {t: "(W·m"}, {t: "-2", k: "sup"}, {t: ")"}],
   hist: lwHist, histSd: lwHistSd, ssp: [lwSsp126, lwSsp370, lwSsp585], sd: [lwSsp126Sd, lwSsp370Sd, lwSsp585Sd],
   tv: lwTrendVal, ts: lwTrendSig, te: lwTrendErr, unit: wm2Unit},
  {left: 70, top: 340, domain: [440, 490], ticks: trTicks, minor: 5, fmt: d3.format("d"),
   title: [{t: "(c)", k: "b"}, {t: " TR"}, {t: "↓", k: "sub"}, {t: "(W·m"}, {t: "-2", k: "sup"}, {t: ")"}],
   hist: trHist, histSd: trHistSd, ssp: [trSsp126, trSsp370, trSsp585], sd: [trSsp126Sd, trSsp370Sd, trSsp585Sd],
   tv: trTrendVal, ts: trTrendSig, te: trTrendErr, unit: wm2Unit},
  {left: 576, top: 340, domain: [-5, 5], ticks: t2mTicks, minor: 1.25, fmt: function(d) { return String(d); },
   title: [{t: "(d)", k: "b"}, {t: " T"}, {t: "2m", k: "sub"}, {t: "("}, {t: "o", k: "sup"}, {t: "C)"}],
   hist: t2mHist, histSd: t2mHistSd, ssp: [t2mSsp126, t2mSsp370, t2mSsp585], sd: [t2mSsp126Sd, t2mSsp370Sd, t2mSsp585Sd],
   tv: t2mTrendVal, ts: t2mTrendSig, te: t2mTrendErr,
   unit: [{t: " "}, {t: "o", k: "sup"}, {t: "C·decade"}, {t: "-1", k: "sup"}], zeroLine: true},
  {left: 70, top: 632, domain: [3, 6], ticks: sphTicks, minor: 0.5, fmt: d3.format("d"),
   title: [{t: "(e)", k: "b"}, {t: " SPH(g·kg"}, {t: "-1", k: "sup"}, {t: ")"}],
   hist: sphHist, histSd: sphHistSd, ssp: [sphSsp126, sphSsp370, sphSsp585], sd: [sphSsp126Sd, sphSsp370Sd, sphSsp585Sd],
   tv: sphTrendVal, ts: sphTrendSig, te: sphTrendErr,
   unit: [{t: " g·kg"}, {t: "-1", k: "sup"}, {t: "·decade"}, {t: "-1", k: "sup"}]},
  {left: 576, top: 632, domain: [2.5, 3.5], ticks: wsTicks, minor: 0.1, fmt: d3.format(".1f"),
   title: [{t: "(f)", k: "b"}, {t: " WS"}, {t: "10m", k: "sub"}, {t: "(m·s"}, {t: "-1", k: "sup"}, {t: ")"}],
   hist: wsHist, histSd: wsHistSd, ssp: [wsSsp126, wsSsp370, wsSsp585], sd: [wsSsp126Sd, wsSsp370Sd, wsSsp585Sd],
   tv: wsTrendVal, ts: wsTrendSig, te: wsTrendErr,
   unit: [{t: " m·s"}, {t: "-1", k: "sup"}, {t: "·decade"}, {t: "-1", k: "sup"}]}
];

var width = 400, height = 191;

var svg = d3.select("#chart").append("svg")
    .attr("width", 1012)
    .attr("height", 865);

// text with sub/superscripts
function richText(parent, x, y, segs, size, fill) {
  var t = parent.append("text")
      .attr("x", x).attr("y", y)
      .attr("fill", fill)
      .attr("xml:space", "preserve")
      .style("white-space", "pre")
      .style("font-size", size + "px");
  var shift = 0;
  segs.forEach(function(s) {
    var target = 0, fs = size;
    if (s.k === "sup") { target = -size * 0.42; fs = size * 0.6; }
    if (s.k === "sub") { target = size * 0.28; fs = size * 0.66; }
    var ts = t.append("tspan").text(s.t)
        .attr("dy", target - shift)
        .style("font-size", fs + "px");
    if (s.k === "b") {
      ts.style("font-family", "'Liberation Serif', 'Times New Roman', serif")
        .style("font-weight", "bold");
    }
    if (s.t === "↓") {
      ts.style("font-family", "'DejaVu Sans', sans-serif").attr("fill", fill);
    }
    shift = target;
  });
  return t;
}

function zip(years, vals) {
  return years.map(function(yr, i) { return {year: yr, v: vals[i]}; });
}
function zipBand(years, vals, sd) {
  return years.map(function(yr, i) { return {year: yr, lo: vals[i] - sd[i], hi: vals[i] + sd[i]}; });
}
// least squares trend over the scenario period
function trendLine(years, vals) {
  var mx = d3.mean(years), my = d3.mean(vals), num = 0, den = 0;
  years.forEach(function(x, i) { num += (x - mx) * (vals[i] - my); den += (x - mx) * (x - mx); });
  var b = num / den;
  return [years[0], years[years.length - 1]].map(function(x) { return {year: x, v: my + b * (x - mx)}; });
}

panels.forEach(function(p, pi) {
  var g = svg.append("g").attr("transform", "translate(" + p.left + "," + p.top + ")");
  var x = d3.scaleLinear().domain([2000, 2100]).range([0, width]);
  var y = d3.scaleLinear().domain(p.domain).range([height, 0]);

  var clipId = "clip" + pi;
  g.append("clipPath").attr("id", clipId)
    .append("rect").attr("width", width).attr("height", height);
  var plot = g.append("g").attr("clip-path", "url(#" + clipId + ")");

  var area = d3.area()
      .x(function(d) { return x(d.year); })
      .y0(function(d) { return y(d.lo); })
      .y1(function(d) { return y(d.hi); });
  var line = d3.line()
      .x(function(d) { return x(d.year); })
      .y(function(d) { return y(d.v); });

  // spread bands
  plot.append("path").datum(zipBand(yearsHist, p.hist, p.histSd))
      .attr("d", area).attr("fill", "#a0a0a0").attr("fill-opacity", 0.85);
  p.ssp.forEach(function(s, i) {
    plot.append("path").datum(zipBand(yearsSsp, s, p.sd[i]))
        .attr("d", area).attr("fill", bandColors[i]).attr("fill-opacity", 0.8);
  });

  if (p.zeroLine) {
    plot.append("line")
        .attr("x1", 0).attr("x2", width)
        .attr("y1", y(0)).attr("y2", y(0))
        .attr("stroke", "#000").attr("stroke-width", 1.5)
        .attr("stroke-dasharray", "12,8");
  }

  // mean lines
  plot.append("path").datum(zip(yearsHist, p.hist))
      .attr("d", line).attr("fill", "none").attr("stroke", "#000").attr("stroke-width", 2.5);
  p.ssp.forEach(function(s, i) {
    plot.append("path").datum(zip(yearsSsp, s))
        .attr("d", line).attr("fill", "none")
        .attr("stroke", lineColors[i]).attr("stroke-width", 2.5)
        .attr("stroke-linejoin", "round");
  });
  // dashed trends
  p.ssp.forEach(function(s, i) {
    plot.append("path").datum(trendLine(yearsSsp, s))
        .attr("d", line).attr("fill", "none")
        .attr("stroke", lineColors[i]).attr("stroke-width", 1.2)
        .attr("stroke-dasharray", "7,4");
  });

  // axes
  var minorVals = d3.range(p.domain[0], p.domain[1] + p.minor / 2, p.minor);
  g.append("g").call(d3.axisLeft(y).tickValues(minorVals).tickSize(4).tickFormat(""))
    .call(function(a) { a.select(".domain").remove(); a.selectAll("line").attr("stroke-width", 1.2); });
  g.append("g").call(d3.axisLeft(y).tickValues(p.ticks).tickSize(10).tickPadding(12).tickFormat(p.fmt))
    .call(function(a) {
      a.select(".domain").remove();
      a.selectAll("line").attr("stroke-width", 1.5);
      a.selectAll("text").style("font-size", "19px").style("font-family", "'Liberation Sans', Arial, sans-serif").attr("fill", "#000");
    });
  g.append("g").attr("transform", "translate(0," + height + ")")
    .call(d3.axisBottom(x).tickValues(d3.range(2000, 2101, 10)).tickSize(4).tickFormat(""))
    .call(function(a) { a.select(".domain").remove(); a.selectAll("line").attr("stroke-width", 1.2); });
  g.append("g").attr("transform", "translate(0," + height + ")")
    .call(d3.axisBottom(x).tickValues(yearTicks).tickSize(10).tickPadding(12).tickFormat(d3.format("d")))
    .call(function(a) {
      a.select(".domain").remove();
      a.selectAll("line").attr("stroke-width", 1.5);
      a.selectAll("text").style("font-size", "19px").style("font-family", "'Liberation Sans', Arial, sans-serif").attr("fill", "#000");
    });

  g.append("rect").attr("width", width).attr("height", height)
      .attr("fill", "none").attr("stroke", "#000").attr("stroke-width", 2);

  // title
  richText(g, 0, -13, p.title, 27, "#000");

  // trend labels
  var tx = p.legend ? 142 : 16;
  var ty0 = p.legend ? 48 : 26;
  if (p.legend) {
    g.append("line").attr("x1", 20).attr("x2", 48).attr("y1", 17).attr("y2", 17)
        .attr("stroke", "#000").attr("stroke-width", 1.5);
    g.append("text").attr("x", 56).attr("y", 23).style("font-size", "18px").text("Historical");
  }
  p.ssp.forEach(function(s, i) {
    var yy = ty0 + i * 24.5;
    if (p.legend) {
      g.append("line").attr("x1", 20).attr("x2", 48).attr("y1", yy - 6).attr("y2", yy - 6)
          .attr("stroke", lineColors[i]).attr("stroke-width", 1.5);
      g.append("text").attr("x", 56).attr("y", yy).style("font-size", "18px")
          .attr("fill", lineColors[i]).text(scenarioNames[i]);
    }
    var segs = [{t: "Trend=" + p.tv[i]}];
    segs.push(p.ts[i] ? {t: "*", k: "sup"} : {t: " "});
    segs.push({t: "±" + p.te[i]});
    richText(g, tx, yy, segs.concat(p.unit), 16.3, lineColors[i]);
  });
});

</script>
</body>
</html>
